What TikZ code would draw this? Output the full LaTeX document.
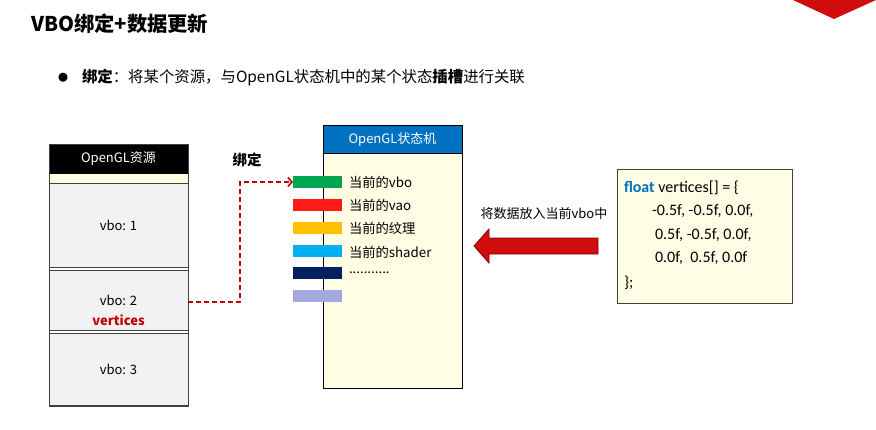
\documentclass[tikz,border=0pt]{standalone}
\usepackage{fontspec}
\setmainfont{Noto Sans CJK SC}
\newfontfamily\codefont{Carlito}
\usetikzlibrary{arrows.meta}
\definecolor{darkred}{HTML}{C00000}
\definecolor{arrowred}{HTML}{D00C0C}
\definecolor{hdrblue}{HTML}{0070C0}
\definecolor{paleyellow}{HTML}{FFFDE3}
\definecolor{resgray}{HTML}{F2F2F2}
\definecolor{edgegray}{HTML}{404040}
\definecolor{barGreen}{HTML}{00A550}
\definecolor{barRed}{HTML}{FF1A1A}
\definecolor{barYellow}{HTML}{FFC000}
\definecolor{barBlue}{HTML}{00B0F0}
\definecolor{barNavy}{HTML}{002060}
\definecolor{barLav}{HTML}{A3A8E0}
\begin{document}
\begin{tikzpicture}[x=1pt,y=-1pt,
  every node/.style={inner sep=0pt, outer sep=0pt},
  txt/.style={font=\fontsize{13}{15}\selectfont},
  section/.style={draw=edgegray, line width=0.8pt, fill=resgray, minimum width=139pt, anchor=north west},
  bar/.style={minimum width=49pt, minimum height=12pt, anchor=west},
  slotlabel/.style={font=\fontsize{13.3}{15}\selectfont, anchor=west},
  codeline/.style={font=\codefont\fontsize{16}{18}\selectfont, anchor=west}]
\useasboundingbox (0,0) rectangle (876,429);
% corner decoration
\fill[arrowred] (793,0) -- (834,19) -- (876,0) -- cycle;
% title
\node[anchor=west, font=\bfseries\fontsize{20.3}{23}\selectfont] (title) at (31,24) {VBO绑定+数据更新};
% bullet line
\node[font=\fontsize{10}{10}\selectfont] (bullet) at (63,78) {●};
\node[anchor=west, font=\fontsize{15.4}{18}\selectfont] (bline) at (82,78) {\textbf{绑定}：将某个资源，与OpenGL状态机中的某个状态\textbf{插槽}进行关联};
% left resource box
\node[section, minimum height=10pt, fill=paleyellow] (strip) at (49,173) {};
\node[section, minimum height=84pt] (vbo1) at (49,183) {};
\node[section, minimum height=60pt] (vbo2) at (49,270) {};
\node[section, minimum height=73pt] (vbo3) at (49,333) {};
\node[section, minimum height=29pt, fill=black, draw=black, text=white, txt] (reshead) at (49,144) {OpenGL资源};
\draw[edgegray, line width=1pt] (reshead.north west) rectangle (vbo3.south east);
\draw[edgegray, line width=1.6pt] (vbo3.south west) -- (vbo3.south east);
\node[txt] (l1) at (vbo1.center) {vbo: 1};
\node[txt] (l2) at (118.5,300) {vbo: 2};
\node[txt, font=\bfseries\fontsize{13}{15}\selectfont, text=darkred] (l2v) at (118.5,320) {vertices};
\node[txt] (l3) at (vbo3.center) {vbo: 3};
% binding label
\node[font=\bfseries\fontsize{14.5}{17}\selectfont] (bindlbl) at (247,160) {绑定};
% state machine box
\node[draw=black, line width=1pt, fill=paleyellow, minimum width=139pt, minimum height=263pt, anchor=north west] (sm) at (323,125) {};
\node[draw=black, line width=1pt, fill=hdrblue, text=white, minimum width=139pt, minimum height=28pt, anchor=north west, txt] (smhead) at (323,125) {OpenGL状态机};
% slot bars
\node[bar, fill=barGreen] (b1) at (293,182) {};
\node[bar, fill=barRed] (b2) at (293,205) {};
\node[bar, fill=barYellow] (b3) at (293,228) {};
\node[bar, fill=barBlue] (b4) at (293,251) {};
\node[bar, fill=barNavy] (b5) at (293,273) {};
\node[bar, fill=barLav] (b6) at (293,296) {};
\node[slotlabel] (s1) at (349,182) {当前的vbo};
\node[slotlabel] (s2) at (349,205) {当前的vao};
\node[slotlabel] (s3) at (349,228) {当前的纹理};
\node[slotlabel] (s4) at (349,252) {当前的shader};
\node[slotlabel] (s5) at (349,273) {...........};
% dashed binding connector
\draw[darkred, line width=1.7pt, dash pattern=on 5pt off 3pt, -{Straight Barb[length=4pt,width=9pt,line width=1.6pt]}]
  ([yshift=-2pt]vbo2.east) -- ++(52,0) |- (b1.west);
% code box
\node[draw=edgegray, line width=1pt, fill=paleyellow, minimum width=175pt, minimum height=134pt, anchor=north west] (code) at (617,169) {};
\node[codeline] (c1) at (624,188) {\textcolor{hdrblue}{\bfseries float} vertices[] = \{};
\node[codeline] (c2) at (652,211) {-0.5f, -0.5f, 0.0f,};
\node[codeline] (c3) at (655,235) {0.5f, -0.5f, 0.0f,};
\node[codeline] (c4) at (655,258) {0.0f,\ \ 0.5f, 0.0f};
\node[codeline] (c5) at (624,283) {\};};
% data arrow
\node[txt] (datalbl) at (544,214) {将数据放入当前vbo中};
\draw[draw=darkred!70!black, fill=arrowred, line width=0.8pt]
  (474,246) -- (489,229) -- (489,238) -- (598,238) -- (598,254) -- (489,254) -- (489,263) -- cycle;
\end{tikzpicture}
\end{document}
